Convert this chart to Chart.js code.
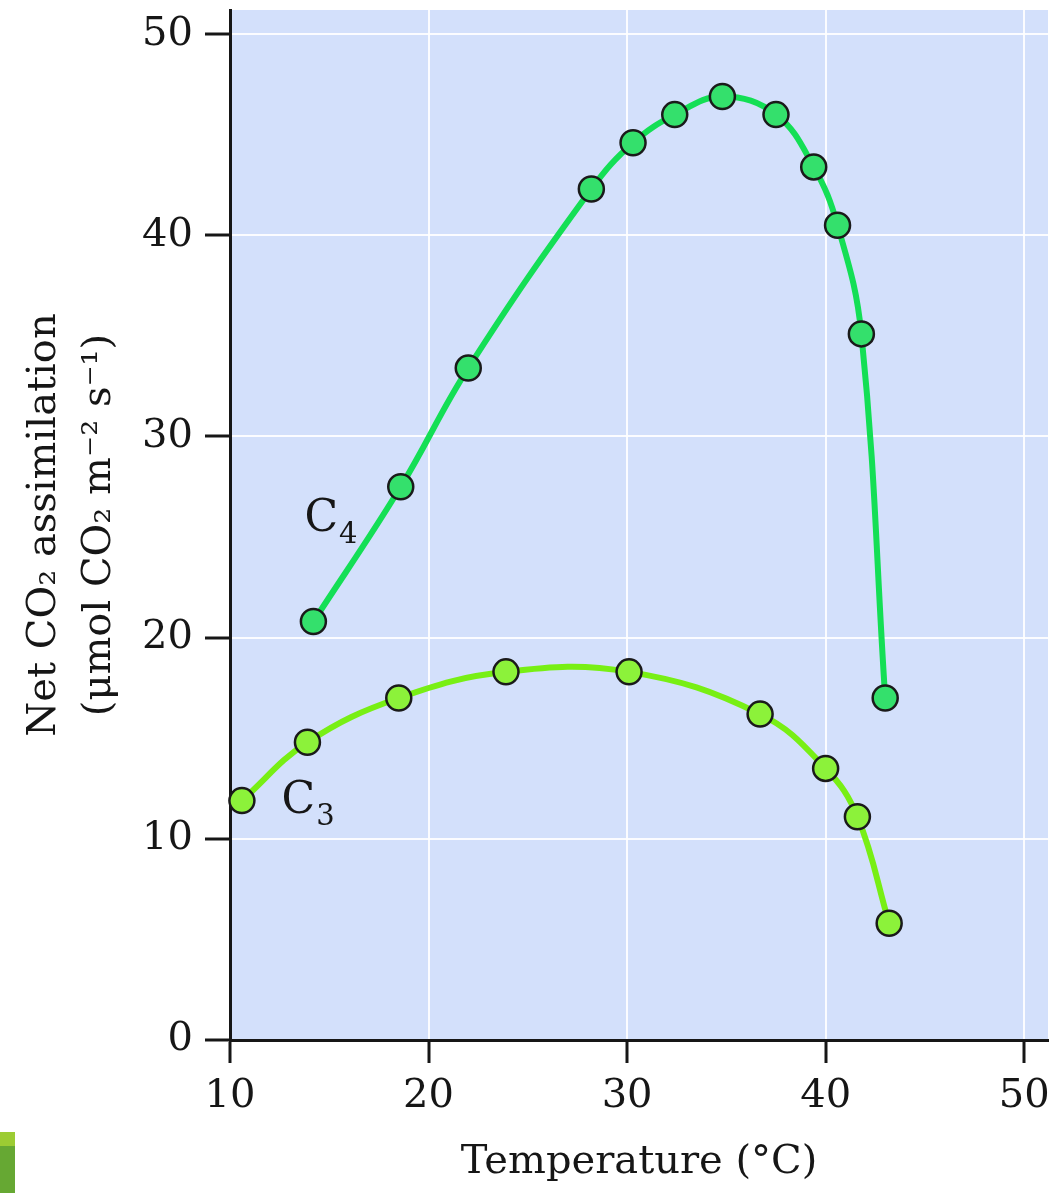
<!DOCTYPE html>
<html>
<head>
<meta charset="utf-8">
<script src="https://cdn.jsdelivr.net/npm/chart.js@4"></script>
<style>
  html, body { margin: 0; padding: 0; background: #fff; }
  #wrap { position: relative; width: 1053px; height: 1193px; }
  .corner { position: absolute; left: 0; width: 15px; }
</style>
</head>
<body>
<div id="wrap">
  <canvas id="chart" width="1053" height="1193"></canvas>
  <div class="corner" style="top:1132px;height:14px;background:#9ccc33"></div>
  <div class="corner" style="top:1146px;height:47px;background:#66a833"></div>
</div>
<script>
// C4 plant readings
const c4Temp = [14.2, 18.6, 22.0, 28.2, 30.3, 32.4, 34.8, 37.5, 39.4, 40.6, 41.8, 43.0];
const c4Rate = [20.8, 27.5, 33.4, 42.3, 44.6, 46.0, 46.9, 46.0, 43.4, 40.5, 35.1, 17.0];

// C3 plant readings
const c3Temp = [10.6, 13.9, 18.5, 23.9, 30.1, 36.7, 40.0, 41.6, 43.2];
const c3Rate = [11.9, 14.8, 17.0, 18.3, 18.3, 16.2, 13.5, 11.1, 5.8];

const xTicks = [10, 20, 30, 40, 50];
const yTicks = [0, 10, 20, 30, 40, 50];

const serif = "'DejaVu Serif', 'Liberation Serif', serif";
const ink = '#161616';

function toPoints(xs, ys) {
  return xs.map((x, i) => ({ x: x, y: ys[i] }));
}

// light blue plot background + curve labels
const plotDecor = {
  id: 'plotDecor',
  beforeDraw(chart) {
    const a = chart.chartArea;
    const c = chart.ctx;
    c.save();
    c.fillStyle = '#d3e0fb';
    c.fillRect(a.left, a.top, a.right - a.left, a.bottom - a.top);
    c.restore();
  },
  afterDatasetsDraw(chart) {
    const c = chart.ctx;
    const xs = chart.scales.x, ys = chart.scales.y;
    const labels = [
      { x: 13.75, y: 25.3, sub: '4' },
      { x: 12.6, y: 11.3, sub: '3' }
    ];
    c.save();
    c.fillStyle = ink;
    c.textBaseline = 'alphabetic';
    c.textAlign = 'left';
    labels.forEach(l => {
      const px = xs.getPixelForValue(l.x);
      const py = ys.getPixelForValue(l.y);
      c.font = '44px ' + serif;
      c.fillText('C', px, py);
      const w = c.measureText('C').width;
      c.font = '29px ' + serif;
      c.fillText(l.sub, px + w + 1, py + 12);
    });
    c.restore();
  }
};

const tickFont = { family: serif, size: 40 };
const titleFont = { family: serif, size: 40, lineHeight: 1.375 };

new Chart(document.getElementById('chart'), {
  type: 'line',
  data: {
    datasets: [
      {
        label: 'C4',
        data: toPoints(c4Temp, c4Rate),
        borderColor: '#14df55',
        backgroundColor: '#34e06c',
        borderWidth: 6,
        pointRadius: 12.5,
        pointBorderWidth: 2.5,
        pointBorderColor: '#1a1a1a',
        pointBackgroundColor: '#34e06c',
        tension: 0.4
      },
      {
        label: 'C3',
        data: toPoints(c3Temp, c3Rate),
        borderColor: '#78ef14',
        backgroundColor: '#8cf23a',
        borderWidth: 6,
        pointRadius: 12.5,
        pointBorderWidth: 2.5,
        pointBorderColor: '#1a1a1a',
        pointBackgroundColor: '#8cf23a',
        tension: 0.4
      }
    ]
  },
  options: {
    responsive: false,
    animation: false,
    clip: false,
    layout: { autoPadding: false, padding: { top: 10, right: 5, left: 0, bottom: 0 } },
    plugins: { legend: { display: false }, tooltip: { enabled: false } },
    scales: {
      x: {
        type: 'linear',
        min: 10,
        max: 51.2,
        afterFit(s) { s.height = 153; s.paddingLeft = 0; s.paddingRight = 0; },
        afterBuildTicks(s) { s.ticks = xTicks.map(v => ({ value: v })); },
        ticks: { font: tickFont, color: ink, padding: 10 },
        grid: { color: 'rgba(255,255,255,0.9)', lineWidth: 2, tickColor: ink, tickWidth: 3, tickLength: 23 },
        border: { color: ink, width: 3 },
        title: { display: true, text: 'Temperature (°C)', font: titleFont, color: ink, padding: { top: 0, bottom: 3 } }
      },
      y: {
        min: 0,
        max: 51.2,
        afterFit(s) { s.width = 230; s.paddingTop = 0; s.paddingBottom = 0; },
        afterBuildTicks(s) { s.ticks = yTicks.map(v => ({ value: v })); },
        ticks: { font: tickFont, color: ink, padding: 12 },
        grid: { color: 'rgba(255,255,255,0.9)', lineWidth: 2, tickColor: ink, tickWidth: 3, tickLength: 25 },
        border: { color: ink, width: 3 },
        title: {
          display: true,
          text: ['Net CO₂ assimilation', '(μmol CO₂ m⁻² s⁻¹)'],
          font: titleFont,
          color: ink,
          padding: { top: 17, bottom: 0 }
        }
      }
    }
  },
  plugins: [plotDecor]
});
</script>
</body>
</html>
